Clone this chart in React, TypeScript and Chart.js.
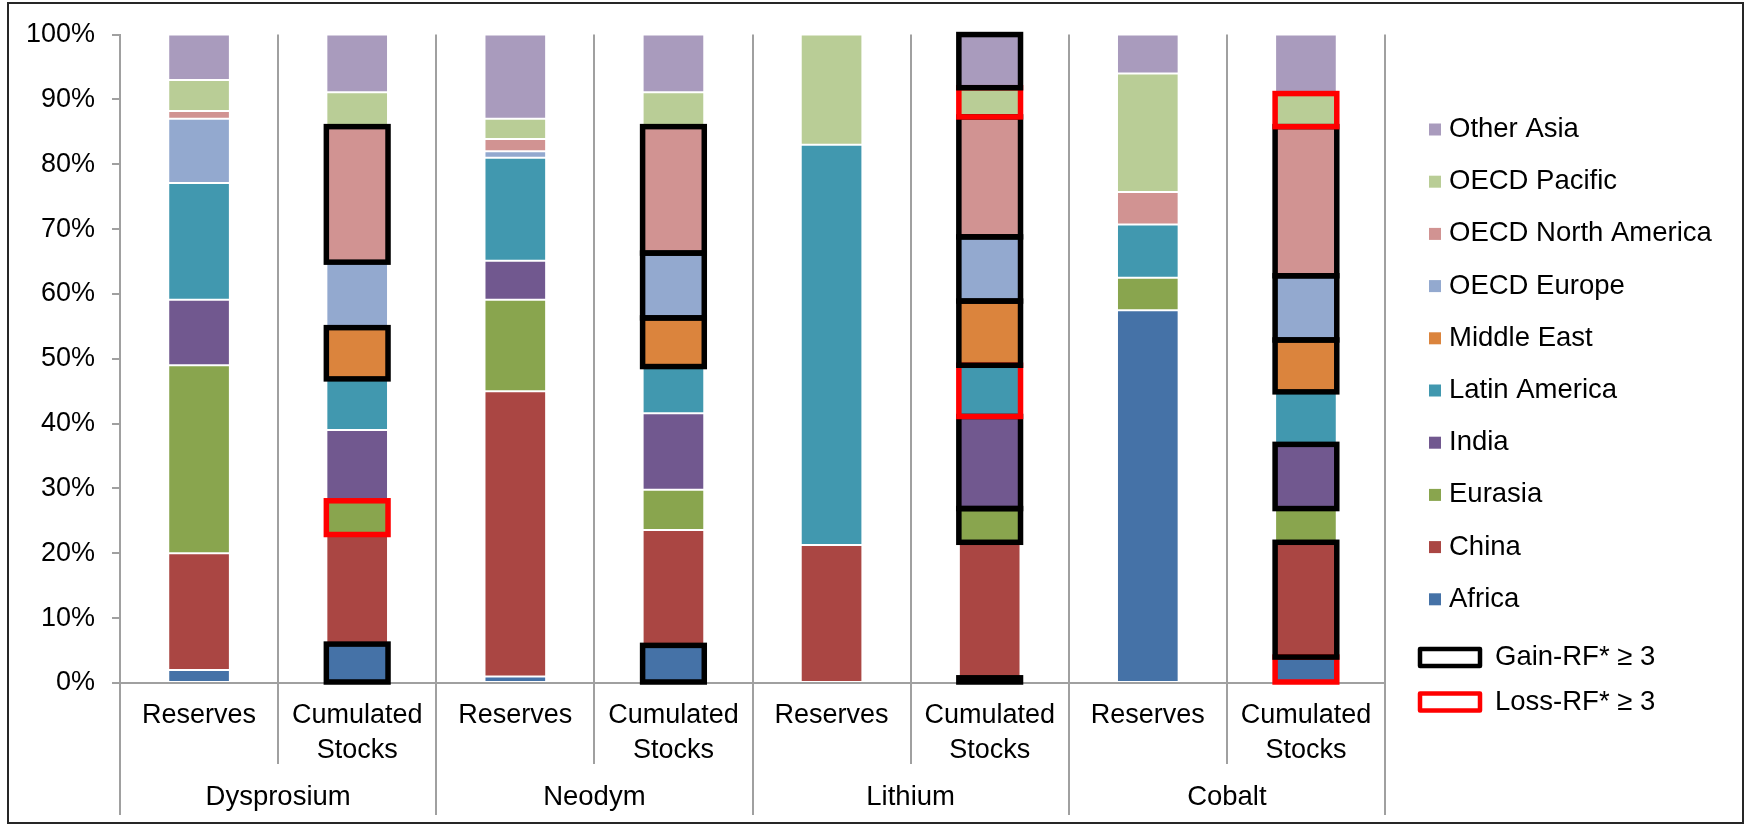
import React, { useEffect, useRef } from "react";
import { Chart, registerables } from "chart.js";

Chart.register(...registerables);

// Bar categories (two per metal) and the metal group labels underneath
const barLabels: (string | string[])[] = [
  "Reserves", ["Cumulated", "Stocks"],
  "Reserves", ["Cumulated", "Stocks"],
  "Reserves", ["Cumulated", "Stocks"],
  "Reserves", ["Cumulated", "Stocks"],
];
const metalLabels = ["Dysprosium", "Neodym", "Lithium", "Cobalt"];

// Regional shares in % (stacked bottom to top)
const africa = [2, 6, 1, 5.8, 0, 0.8, 57.5, 4];
const china = [18, 16.9, 44, 17.8, 21.3, 20.9, 0, 17.7];
const eurasia = [29, 5.2, 14.1, 6.2, 0, 5.2, 5, 5.2];
const india = [10.1, 10.9, 6, 11.8, 0, 14.2, 0, 9.9];
const latinAmerica = [18, 7.9, 15.9, 7.2, 61.7, 7.9, 8.2, 8.1];
const middleEast = [0, 7.9, 0, 7.5, 0, 9.9, 0, 8];
const oecdEurope = [9.9, 10.1, 1, 10, 0, 9.9, 0, 9.9];
const oecdNorthAmerica = [1.2, 20.9, 1.9, 19.5, 0, 18.5, 5, 23];
const oecdPacific = [4.8, 5.3, 3.1, 5.3, 17, 4.5, 18.3, 5.1];
const otherAsia = [7, 8.9, 13, 8.9, 0, 8.2, 6, 9.1];

// Redistribution factor flags: 0 = none, 1 = Gain-RF* >= 3, 2 = Loss-RF* >= 3
const africaRF = [0, 1, 0, 1, 0, 1, 0, 2];
const chinaRF = [0, 0, 0, 0, 0, 0, 0, 1];
const eurasiaRF = [0, 2, 0, 0, 0, 1, 0, 0];
const indiaRF = [0, 0, 0, 0, 0, 1, 0, 1];
const latinAmericaRF = [0, 0, 0, 0, 0, 2, 0, 0];
const middleEastRF = [0, 1, 0, 1, 0, 1, 0, 1];
const oecdEuropeRF = [0, 0, 0, 1, 0, 1, 0, 1];
const oecdNorthAmericaRF = [0, 1, 0, 1, 0, 1, 0, 1];
const oecdPacificRF = [0, 0, 0, 0, 0, 2, 0, 2];
const otherAsiaRF = [0, 0, 0, 0, 0, 1, 0, 0];

const regionNames = [
  "Africa", "China", "Eurasia", "India", "Latin America",
  "Middle East", "OECD Europe", "OECD North America", "OECD Pacific", "Other Asia",
];
const regionColors = [
  "#4572A7", "#AA4643", "#89A54E", "#71588F", "#4198AF",
  "#DB843D", "#93A9CF", "#D19392", "#B9CD96", "#A99BBD",
];
const seriesValues = [
  africa, china, eurasia, india, latinAmerica,
  middleEast, oecdEurope, oecdNorthAmerica, oecdPacific, otherAsia,
];
const seriesFlags = [
  africaRF, chinaRF, eurasiaRF, indiaRF, latinAmericaRF,
  middleEastRF, oecdEuropeRF, oecdNorthAmericaRF, oecdPacificRF, otherAsiaRF,
];
const flagNames = ["Gain-RF* \u2265 3", "Loss-RF* \u2265 3"];
const flagColors = ["#000000", "#FF0000"];

const FONT = "'Liberation Sans', Arial, Helvetica, sans-serif";
const GRID = "#a0a0a0";

// Thin frame around the whole chart
const framePlugin = {
  id: "frame",
  afterDraw(chart: any) {
    const ctx = chart.ctx;
    ctx.save();
    ctx.strokeStyle = "#262626";
    ctx.lineWidth = 2;
    ctx.strokeRect(8, 3, chart.width - 10, chart.height - 5);
    ctx.restore();
  },
};

// Outline segments flagged with a gain/loss redistribution factor
const outlinePlugin = {
  id: "rfOutline",
  afterDatasetsDraw(chart: any) {
    const ctx = chart.ctx;
    ctx.save();
    ctx.lineJoin = "miter";
    ctx.lineWidth = 5.5;
    chart.data.datasets.forEach((_ds: any, i: number) => {
      const meta = chart.getDatasetMeta(i);
      const flags = seriesFlags[i];
      meta.data.forEach((bar: any, j: number) => {
        const f = flags[j];
        if (!f) return;
        const { x, y, base, width } = bar.getProps(["x", "y", "base", "width"], true);
        ctx.strokeStyle = flagColors[f - 1];
        ctx.strokeRect(x - width / 2, Math.min(y, base), width, Math.abs(base - y));
      });
    });
    ctx.restore();
  },
};

// Legend on the right: regions top to bottom in reverse stacking order, then flag keys
const legendPlugin = {
  id: "sideLegend",
  afterDraw(chart: any) {
    const ctx = chart.ctx;
    const left = chart.chartArea.right + 44;
    const top = 129.5;
    const step = 52.2;
    ctx.save();
    ctx.font = `27.5px ${FONT}`;
    ctx.textBaseline = "middle";
    ctx.textAlign = "left";
    for (let k = 0; k < regionNames.length; k++) {
      const i = regionNames.length - 1 - k;
      const cy = top + k * step;
      ctx.fillStyle = regionColors[i];
      ctx.fillRect(left, cy - 6, 12, 12);
      ctx.fillStyle = "#000";
      ctx.fillText(regionNames[i], left + 20, cy);
    }
    for (let k = 0; k < flagNames.length; k++) {
      const cy = 657.5 + k * 44.5;
      ctx.strokeStyle = flagColors[k];
      ctx.lineWidth = 4.5;
      ctx.lineJoin = "round";
      ctx.strokeRect(left - 9, cy - 8.5, 60, 17);
      ctx.fillStyle = "#000";
      ctx.fillText(flagNames[k], left + 66, cy);
    }
    ctx.restore();
  },
};

export default function App() {
  const canvasRef = useRef<HTMLCanvasElement | null>(null);

  useEffect(() => {
    const canvas = canvasRef.current;
    if (!canvas) return;
    const tickFont = { family: FONT, size: 27, lineHeight: 1.3 };
    const chart = new Chart(canvas, {
      type: "bar",
      data: {
        labels: barLabels as any,
        datasets: seriesValues.map((values, i) => ({
          label: regionNames[i],
          data: values,
          backgroundColor: regionColors[i],
          borderColor: "#ffffff",
          borderWidth: 1,
          borderSkipped: false,
          barPercentage: 0.39,
          categoryPercentage: 1,
          xAxisID: "x",
          yAxisID: "y",
        })),
      },
      options: {
        responsive: false,
        animation: false,
        events: [],
        layout: { padding: { left: 0, top: 33.5, right: 360, bottom: 9 } },
        plugins: {
          legend: { display: false },
          tooltip: { enabled: false },
        },
        scales: {
          x: {
            stacked: true,
            offset: true,
            grid: { offset: true, color: GRID, lineWidth: 2, tickLength: 81, drawTicks: true },
            border: { color: GRID, width: 2 },
            ticks: {
              autoSkip: false,
              maxRotation: 0,
              minRotation: 0,
              padding: -66.5,
              color: "#000",
              font: tickFont,
            },
            afterFit: (s: any) => { s.height = 81; },
          },
          x2: {
            type: "category",
            labels: metalLabels,
            position: "bottom",
            offset: true,
            grid: { offset: true, drawOnChartArea: false, color: GRID, lineWidth: 2, tickLength: 51 },
            border: { display: false },
            ticks: {
              autoSkip: false,
              maxRotation: 0,
              minRotation: 0,
              padding: -35.5,
              color: "#000",
              font: { family: FONT, size: 27.5, lineHeight: 1.3 },
            },
            afterFit: (s: any) => { s.height = 52; },
          },
          y: {
            stacked: true,
            min: 0,
            max: 100,
            ticks: {
              stepSize: 10,
              padding: 17,
              color: "#000",
              font: tickFont,
              callback: (v: any) => `${v}%`,
            },
            grid: { drawOnChartArea: false, color: GRID, lineWidth: 2, tickLength: 8 },
            border: { color: GRID, width: 2 },
            afterFit: (s: any) => { s.width = 120; },
          },
        },
      } as any,
      plugins: [outlinePlugin, legendPlugin, framePlugin],
    });
    return () => chart.destroy();
  }, []);

  return (
    <div style={{ position: "fixed", left: 0, top: 0, width: 1745, height: 825, background: "#fff" }}>
      <canvas ref={canvasRef} width={1745} height={825} />
    </div>
  );
}
